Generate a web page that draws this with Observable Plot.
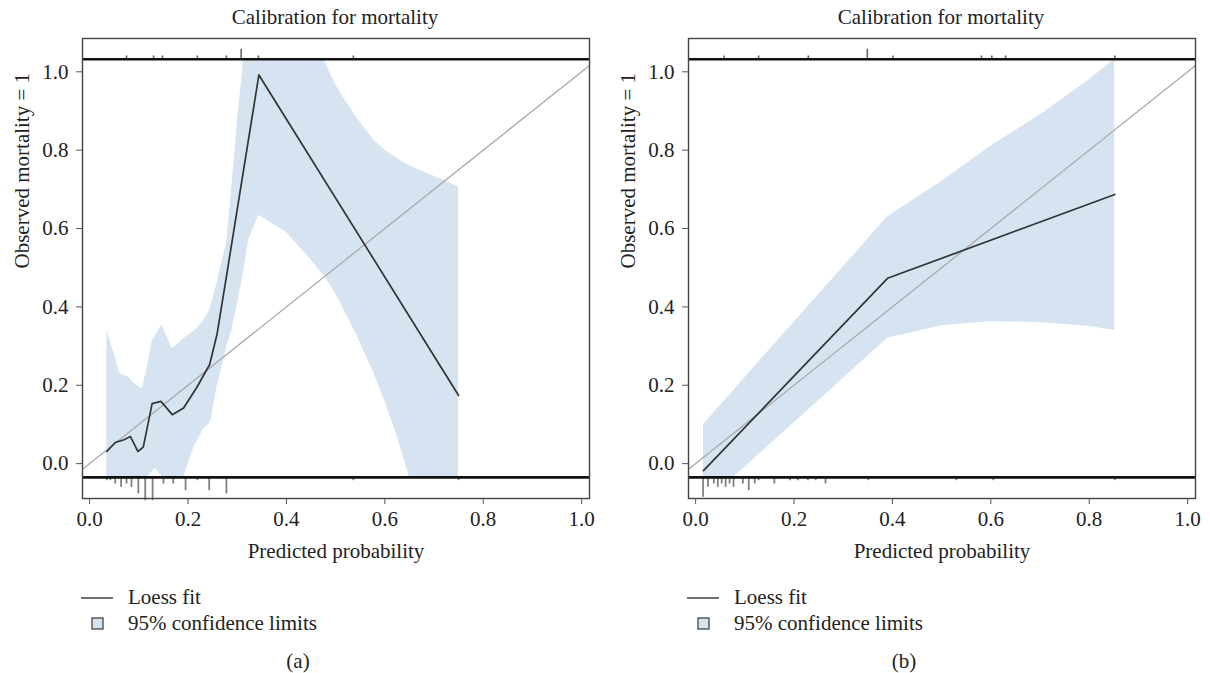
<!DOCTYPE html>
<html>
<head>
<meta charset="utf-8">
<script src="https://cdn.jsdelivr.net/npm/d3@7"></script>
<script src="https://cdn.jsdelivr.net/npm/@observablehq/plot@0.6"></script>
<style>
  html, body { margin: 0; padding: 0; background: #fff; }
  #root { position: relative; width: 1210px; height: 673px; overflow: hidden; font-family: "Liberation Serif", "DejaVu Serif", serif; color: #222; }
  .abs { position: absolute; white-space: nowrap; font-size: 21px; line-height: 20px; }
  .ctr { transform: translateX(-50%); }
  svg.leg { position: absolute; overflow: visible; }
</style>
</head>
<body>
<div id="root"></div>
<script>
// ---------- data ----------
const titles = ["Calibration for mortality", "Calibration for mortality"];
const xLabel = "Predicted probability";
const yLabel = "Observed mortality = 1";
const legendLine = "Loess fit";
const legendBand = "95% confidence limits";
const panelTags = ["(a)", "(b)"];
const xTicks = [0, 0.2, 0.4, 0.6, 0.8, 1.0];
const yTicks = [0, 0.2, 0.4, 0.6, 0.8, 1.0];

// panel (a)
const loessA_x = [0.035, 0.052, 0.070, 0.083, 0.098, 0.109, 0.127, 0.145, 0.168, 0.191, 0.218, 0.244, 0.259, 0.279, 0.344, 0.750];
const loessA_y = [0.031, 0.054, 0.061, 0.069, 0.031, 0.042, 0.153, 0.159, 0.125, 0.142, 0.195, 0.253, 0.331, 0.485, 0.992, 0.174];
const bandA_x  = [0.035, 0.050, 0.062, 0.079, 0.090, 0.107, 0.118, 0.127, 0.134, 0.142, 0.147, 0.150, 0.168, 0.191, 0.212, 0.218, 0.232, 0.242, 0.246, 0.259, 0.263, 0.277, 0.279, 0.290, 0.293, 0.300, 0.310, 0.313, 0.323, 0.344, 0.400, 0.450, 0.476, 0.493, 0.510, 0.544, 0.578, 0.600, 0.625, 0.650, 0.679, 0.720, 0.750];
const bandA_lo = [-0.035, -0.035, -0.035, -0.035, -0.035, -0.035, -0.035, -0.020, -0.013, -0.025, -0.032, -0.035, -0.035, -0.035, 0.042, 0.055, 0.089, 0.100, 0.106, 0.195, 0.215, 0.289, 0.297, 0.345, 0.365, 0.405, 0.468, 0.490, 0.570, 0.634, 0.590, 0.520, 0.480, 0.448, 0.410, 0.325, 0.230, 0.160, 0.070, -0.035, -0.035, -0.035, -0.035];
const bandA_hi = [0.340, 0.280, 0.229, 0.221, 0.205, 0.191, 0.250, 0.314, 0.325, 0.345, 0.353, 0.345, 0.293, 0.319, 0.338, 0.344, 0.365, 0.387, 0.400, 0.460, 0.485, 0.555, 0.570, 0.720, 0.760, 0.870, 0.990, 1.032, 1.032, 1.032, 1.032, 1.032, 1.032, 0.985, 0.945, 0.881, 0.825, 0.800, 0.779, 0.760, 0.744, 0.723, 0.706];
const rugTopA_x = [0.075, 0.130, 0.148, 0.219, 0.278, 0.308, 0.343, 0.536];
const rugTopA_n = [1, 1, 1, 1, 1, 3, 1, 1];
const rugBotA_x = [0.035, 0.042, 0.052, 0.064, 0.075, 0.085, 0.099, 0.113, 0.128, 0.150, 0.170, 0.195, 0.219, 0.243, 0.278, 0.536, 0.750];
const rugBotA_n = [1, 1, 2, 3, 2, 3, 5, 7, 7, 2, 2, 4, 1, 4, 5, 1, 1];

// panel (b)
const loessB_x = [0.016, 0.390, 0.852];
const loessB_y = [-0.018, 0.473, 0.687];
const bandB_x  = [0.016, 0.077, 0.100, 0.200, 0.300, 0.390, 0.500, 0.600, 0.700, 0.800, 0.852];
const bandB_lo = [-0.035, -0.035, -0.009, 0.104, 0.217, 0.320, 0.352, 0.362, 0.360, 0.350, 0.340];
const bandB_hi = [0.100, 0.186, 0.219, 0.361, 0.502, 0.630, 0.720, 0.810, 0.890, 0.980, 1.032];
const rugTopB_x = [0.058, 0.128, 0.229, 0.349, 0.401, 0.581, 0.602, 0.630, 0.852];
const rugTopB_n = [1, 1, 1, 3, 1, 1, 1, 1, 1];
const rugBotB_x = [0.015, 0.025, 0.037, 0.045, 0.053, 0.061, 0.069, 0.077, 0.096, 0.108, 0.120, 0.128, 0.160, 0.192, 0.208, 0.228, 0.244, 0.264, 0.351, 0.530, 0.605, 0.852];
const rugBotB_n = [6, 3, 2, 3, 2, 3, 2, 3, 2, 4, 2, 1, 2, 1, 1, 1, 1, 2, 1, 1, 1, 1];

// reference lines (top/bottom limits of the plot region used by the rugs)
const topLimit = 1.032;
const bottomLimit = -0.035;
const rugUnit = 0.0085;

// ---------- drawing ----------
const xDomain = [-0.0145, 1.016];
const yDomain = [-0.089, 1.085];
const fmt = d => d.toFixed(1);

function panel(lx, ly, bx, blo, bhi, tx, tn, bxr, bn) {
  const loess = lx.map((x, i) => ({x, y: ly[i]}));
  const band = bx.map((x, i) => ({x, lo: blo[i], hi: bhi[i]}));
  const rugT = tx.map((x, i) => ({x, n: tn[i]}));
  const rugB = bxr.map((x, i) => ({x, n: bn[i]}));
  const diag = xDomain.map(v => ({x: v, y: v}));
  return Plot.plot({
    width: 600, height: 560,
    marginLeft: 82, marginRight: 11, marginTop: 38, marginBottom: 62,
    x: {domain: xDomain},
    y: {domain: yDomain},
    style: {fontFamily: '"Liberation Serif", "DejaVu Serif", serif', fontSize: "21px", color: "#222", background: "transparent", overflow: "visible"},
    marks: [
      Plot.areaY(band, {x: "x", y1: "lo", y2: "hi", fill: "#d6e4f2"}),
      Plot.line(diag, {x: "x", y: "y", stroke: "#a9a9a9", strokeWidth: 1.3}),
      Plot.line(loess, {x: "x", y: "y", stroke: "#333", strokeWidth: 1.7}),
      Plot.ruleX(rugT, {x: "x", y1: topLimit, y2: d => topLimit + d.n * rugUnit, stroke: "#666", strokeWidth: 1.6}),
      Plot.ruleX(rugB, {x: "x", y1: bottomLimit, y2: d => bottomLimit - d.n * rugUnit, stroke: "#808080", strokeWidth: 1.8}),
      Plot.ruleY([topLimit, bottomLimit], {stroke: "#111", strokeWidth: 2.6}),
      Plot.frame({stroke: "#444", strokeWidth: 1.4}),
      Plot.axisX({ticks: xTicks, tickFormat: fmt, tickSize: 6, tickPadding: 7, label: null, stroke: "#555"}),
      Plot.axisY({ticks: yTicks, tickFormat: fmt, tickSize: 6, tickPadding: 8, label: null, stroke: "#555"}),
      Plot.text([xLabel], {text: d => d, frameAnchor: "bottom", dy: 53, lineAnchor: "middle", fill: "#222"}),
      Plot.text([yLabel], {text: d => d, frameAnchor: "left", rotate: -90, dx: -60, fill: "#222"})
    ]
  });
}

const root = document.getElementById("root");

function place(el, left, top) {
  el.style.position = "absolute";
  el.style.left = left + "px";
  el.style.top = top + "px";
  root.appendChild(el);
}

function label(text, x, cy, centered) {
  const d = document.createElement("div");
  d.className = "abs" + (centered ? " ctr" : "");
  d.textContent = text;
  d.style.left = x + "px";
  d.style.top = (cy - 10) + "px";
  root.appendChild(d);
}

function legend(offset, tag) {
  const s = d3.create("svg").attr("class", "leg").attr("width", 1).attr("height", 1)
    .style("left", "0px").style("top", "0px");
  s.append("line").attr("x1", offset + 81).attr("x2", offset + 113).attr("y1", 598).attr("y2", 598)
    .attr("stroke", "#333").attr("stroke-width", 1.4);
  s.append("rect").attr("x", offset + 92).attr("y", 618).attr("width", 11).attr("height", 11)
    .attr("fill", "#d6e4f2").attr("stroke", "#444").attr("stroke-width", 1.3);
  root.appendChild(s.node());
  label(legendLine, offset + 128, 597, false);
  label(legendBand, offset + 128, 623, false);
  label(tag, offset + 298, 661, true);
}

const pa = panel(loessA_x, loessA_y, bandA_x, bandA_lo, bandA_hi, rugTopA_x, rugTopA_n, rugBotA_x, rugBotA_n);
const pb = panel(loessB_x, loessB_y, bandB_x, bandB_lo, bandB_hi, rugTopB_x, rugTopB_n, rugBotB_x, rugBotB_n);
place(pa, 0, 0);
place(pb, 606, 0);
label(titles[0], 335, 17, true);
label(titles[1], 941, 17, true);
legend(0, panelTags[0]);
legend(606, panelTags[1]);
</script>
</body>
</html>
